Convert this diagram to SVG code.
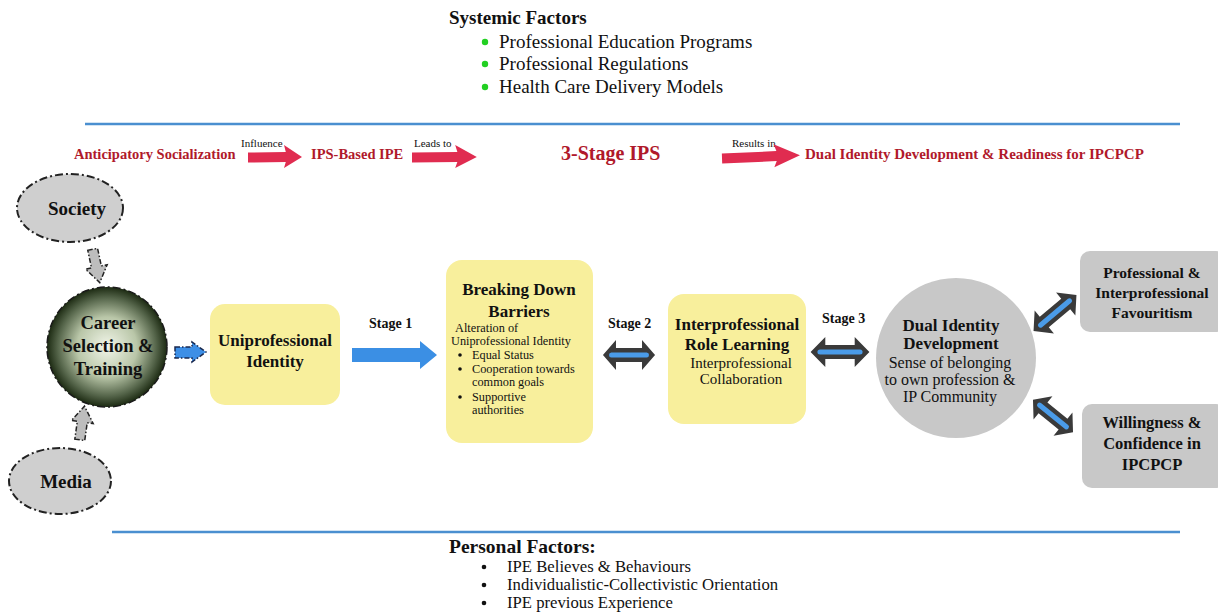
<svg xmlns="http://www.w3.org/2000/svg" width="1218" height="614" viewBox="0 0 1218 614" font-family="'Liberation Serif', 'Times New Roman', serif">
  <style>
    text { font-family: "Liberation Serif", "Times New Roman", serif; fill: #111; }
    .b { font-weight: bold; }
    .red { fill: #b0192b; font-weight: bold; }
    .small { font-size: 11px; }
    .box { fill: #f8ef9c; }
    .gbox { fill: #c8c8c8; }
    .rule { stroke: #4a8fd0; stroke-width: 2.5; }
    .ell { fill: #cfcfcf; stroke: #222; stroke-width: 2; stroke-dasharray: 8 3 2 3; }
    .garrow { fill: #bdbdbd; stroke: #222; stroke-width: 1.5; stroke-dasharray: 5 2 1.5 2; }
    .dbl { fill: #3a3a3a; }
    .dblin { stroke: #4a9be8; stroke-width: 5; stroke-linecap: round; }
    .redarr { fill: #e02c50; }
  </style>
  <defs>
    <radialGradient id="careerGrad" cx="50%" cy="50%" r="50%">
      <stop offset="0" stop-color="#f2f6ea"/>
      <stop offset="0.5" stop-color="#b9c6a8"/>
      <stop offset="0.82" stop-color="#55654a"/>
      <stop offset="1" stop-color="#1c2a12"/>
    </radialGradient>
    <!-- double-headed arrow, length 56, centred on origin -->
    <g id="dbl">
      <polygon class="dbl" points="-28,0 -14,-15 -14,-7 14,-7 14,-15 28,0 14,15 14,7 -14,7 -14,15"/>
      <line class="dblin" x1="-19" y1="0" x2="19" y2="0"/>
    </g>
    <!-- red horizontal arrow, length 60 -->
    <g id="redArrow">
      <polygon class="redarr" points="0,-4.5 42,-5 40,-12 60,0 40,11 42,5 0,5.5"/>
    </g>
  </defs>

  <!-- systemic factors header -->
  <g id="systemic">
    <text x="449" y="24" class="b" font-size="19">Systemic Factors</text>
    <circle cx="485" cy="42" r="3.2" fill="#22d022"/>
    <circle cx="485" cy="64" r="3.2" fill="#22d022"/>
    <circle cx="485" cy="87" r="3.2" fill="#22d022"/>
    <text x="499" y="48" font-size="19">Professional Education Programs</text>
    <text x="499" y="70" font-size="19">Professional Regulations</text>
    <text x="499" y="93" font-size="19">Health Care Delivery Models</text>
  </g>

  <line class="rule" x1="85" y1="124" x2="1180" y2="124"/>
  <line class="rule" x1="112" y1="532" x2="1180" y2="532"/>

  <!-- process row -->
  <g id="process">
    <text x="74" y="159" class="red" font-size="14.5">Anticipatory Socialization</text>
    <text x="241" y="147" class="small">Influence</text>
    <use href="#redArrow" transform="translate(248,157) scale(0.9,1)"/>
    <text x="311" y="159" class="red" font-size="14.5">IPS-Based IPE</text>
    <text x="414" y="147" class="small">Leads to</text>
    <use href="#redArrow" transform="translate(412,157) scale(1.08,1)"/>
    <text x="561" y="160" class="red" font-size="20">3-Stage IPS</text>
    <text x="732" y="147" class="small">Results in</text>
    <use href="#redArrow" transform="translate(722,158) rotate(-2) scale(1.3,1)"/>
    <text x="805" y="159" class="red" font-size="15">Dual Identity Development &amp; Readiness for IPCPCP</text>
  </g>

  <g id="society">
    <ellipse class="ell" cx="70" cy="208" rx="53" ry="34"/>
    <text x="77" y="215" class="b" font-size="19" text-anchor="middle">Society</text>
  </g>
  <g id="media">
    <ellipse class="ell" cx="60" cy="481" rx="51" ry="33"/>
    <text x="66" y="488" class="b" font-size="19" text-anchor="middle">Media</text>
  </g>
  <g id="career">
    <circle cx="107" cy="347" r="60" fill="url(#careerGrad)" stroke="#1a1a1a" stroke-width="1.5" stroke-dasharray="8 3 2 3"/>
    <text x="108" y="329" class="b" font-size="18.5" text-anchor="middle">Career</text>
    <text x="108" y="352" class="b" font-size="18.5" text-anchor="middle">Selection &amp;</text>
    <text x="108" y="375" class="b" font-size="18.5" text-anchor="middle">Training</text>
  </g>
  <g id="uniprofessional">
    <rect class="box" x="210" y="304" width="130" height="101" rx="15"/>
    <text x="275" y="346" class="b" font-size="17" text-anchor="middle">Uniprofessional</text>
    <text x="275" y="367" class="b" font-size="17" text-anchor="middle">Identity</text>
  </g>
  <g id="barriers">
    <rect class="box" x="446" y="260" width="147" height="183" rx="16"/>
    <text x="519" y="295" class="b" font-size="17" text-anchor="middle">Breaking Down</text>
    <text x="519" y="317" class="b" font-size="17" text-anchor="middle">Barriers</text>
    <text x="455" y="332" font-size="12.3">Alteration of</text>
    <text x="451" y="345" font-size="12.3">Uniprofessional Identity</text>
    <g font-size="12.3">
      <circle cx="460" cy="355" r="1.8" fill="#111"/>
      <circle cx="460" cy="369" r="1.8" fill="#111"/>
      <circle cx="460" cy="397" r="1.8" fill="#111"/>
      <text x="472" y="359">Equal Status</text>
      <text x="472" y="373">Cooperation towards</text>
      <text x="472" y="386">common goals</text>
      <text x="472" y="401">Supportive</text>
      <text x="472" y="414">authorities</text>
    </g>
  </g>
  <g id="roleLearning">
    <rect class="box" x="668" y="294" width="138" height="130" rx="16"/>
    <text x="737" y="330" class="b" font-size="17" text-anchor="middle">Interprofessional</text>
    <text x="737" y="350" class="b" font-size="17" text-anchor="middle">Role Learning</text>
    <text x="741" y="368" font-size="15" text-anchor="middle">Interprofessional</text>
    <text x="741" y="384" font-size="15" text-anchor="middle">Collaboration</text>
  </g>
  <g id="dualIdentity">
    <circle class="gbox" cx="956" cy="358" r="80"/>
    <text x="951" y="331" class="b" font-size="17" text-anchor="middle">Dual Identity</text>
    <text x="951" y="349" class="b" font-size="17" text-anchor="middle">Development</text>
    <text x="950" y="368" font-size="16" text-anchor="middle">Sense of belonging</text>
    <text x="950" y="385" font-size="16" text-anchor="middle">to own profession &amp;</text>
    <text x="950" y="402" font-size="16" text-anchor="middle">IP Community</text>
  </g>
  <g id="favouritism">
    <rect class="gbox" x="1080" y="251" width="146" height="81" rx="10"/>
    <text x="1152" y="278" class="b" font-size="15.5" text-anchor="middle">Professional &amp;</text>
    <text x="1152" y="298" class="b" font-size="15.5" text-anchor="middle">Interprofessional</text>
    <text x="1152" y="318" class="b" font-size="15.5" text-anchor="middle">Favouritism</text>
  </g>
  <g id="willingness">
    <rect class="gbox" x="1082" y="404" width="144" height="84" rx="10"/>
    <text x="1152" y="428" class="b" font-size="16.5" text-anchor="middle">Willingness &amp;</text>
    <text x="1152" y="449" class="b" font-size="16.5" text-anchor="middle">Confidence in</text>
    <text x="1152" y="470" class="b" font-size="16.5" text-anchor="middle">IPCPCP</text>
  </g>

  <!-- connectors -->
  <g id="connectors">
    <polygon class="garrow" transform="translate(96,265) rotate(-12)" points="-5,-16 5,-16 5,2 11,2 0,18 -11,2 -5,2"/>
    <polygon class="garrow" transform="translate(82,424) rotate(8)" points="-5,16 5,16 5,-2 11,-2 0,-18 -11,-2 -5,-2"/>
    <polygon points="175,347 192,347 192,342 206,352 192,362 192,358 175,358" fill="#3d8fe6" stroke="#1a2a50" stroke-width="1.5" stroke-dasharray="5 2 1.5 2"/>
    <polygon points="352,348 420,348 420,341 437,355 420,369 420,362 352,362" fill="#3b8fe4"/>
    <text x="369" y="328" class="b" font-size="14">Stage 1</text>
    <text x="608" y="328" class="b" font-size="14">Stage 2</text>
    <use href="#dbl" transform="translate(629,355) scale(0.93,1)"/>
    <text x="822" y="323" class="b" font-size="14">Stage 3</text>
    <use href="#dbl" transform="translate(840,352) scale(1.05,1)"/>
    <use href="#dbl" transform="translate(1055,313) rotate(-40)"/>
    <use href="#dbl" transform="translate(1053,416) rotate(39) scale(0.92,1)"/>
  </g>

  <!-- personal factors footer -->
  <g id="personal">
    <text x="449" y="553" class="b" font-size="19.5">Personal Factors:</text>
    <circle cx="484" cy="567" r="2.3" fill="#111"/>
    <circle cx="484" cy="585" r="2.3" fill="#111"/>
    <circle cx="484" cy="603" r="2.3" fill="#111"/>
    <text x="507" y="572" font-size="16.7">IPE Believes &amp; Behaviours</text>
    <text x="507" y="590" font-size="16.7">Individualistic-Collectivistic Orientation</text>
    <text x="507" y="608" font-size="16.7">IPE previous Experience</text>
  </g>
</svg>
